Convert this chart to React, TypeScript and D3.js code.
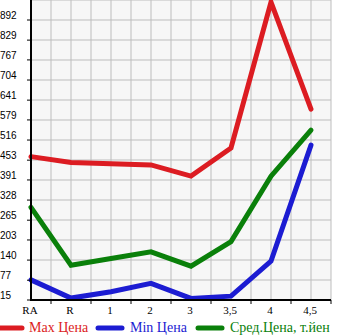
import React from "react";
import * as d3 from "d3";

const categories = ["RA", "R", "1", "2", "3", "3,5", "4", "4,5"];
const maxPrice = [464, 446, 442, 438, 403, 491, 948, 613];
const minPrice = [78, 21, 41, 67, 20, 27, 137, 500];
const avgPrice = [305, 124, 145, 166, 121, 198, 403, 547];
const yTicks = [15, 77, 140, 203, 265, 328, 391, 453, 516, 579, 641, 704, 767, 829, 892];
const legendLabels = ["Max Цена", "Min Цена", "Сред.Цена, т.йен"];

const W = 345;
const H = 335;
const left = 31;
const right = 331;
const top = 0;
const bottom = 300;

const colors = ["#dc1c22", "#1c1cd2", "#0a800a"];

export default function App() {
  const x = d3.scalePoint<string>().domain(categories).range([left, left + 280]);
  const y = d3.scaleLinear().domain([15, 892]).range([bottom, 20]);
  const step = x.step() / 2;
  const vGrid = d3.range(left, right + 0.5, step);
  const hGrid = d3.range(top, bottom + 0.5, 20);
  const line = d3
    .line<number>()
    .x((_, i) => x(categories[i]) as number)
    .y((d) => y(d));
  const series = [maxPrice, minPrice, avgPrice];
  const legendX = [[0, 22, 29], [98, 122, 130], [198, 222, 230]];
  return (
    <svg
      width={W}
      height={H}
      style={{ position: "absolute", left: 0, top: 0 }}
    >
      <rect x={left} y={top} width={right - left} height={bottom - top} fill="#f7f7f7" />
      {vGrid.map((gx) => (
        <line key={"v" + gx} x1={gx} x2={gx} y1={top} y2={bottom} stroke="#bdbdbd" strokeWidth={1} />
      ))}
      {hGrid.map((gy) => (
        <line key={"h" + gy} x1={left} x2={right} y1={gy} y2={gy} stroke="#bdbdbd" strokeWidth={1} />
      ))}
      {series.map((s, i) => (
        <path
          key={"s" + i}
          d={line(s) || ""}
          fill="none"
          stroke={colors[i]}
          strokeWidth={5}
          strokeLinejoin="miter"
          strokeLinecap="round"
        />
      ))}
      <line x1={left} x2={left} y1={top} y2={bottom + 1} stroke="#000" strokeWidth={2} />
      <line x1={left - 1} x2={right} y1={bottom} y2={bottom} stroke="#000" strokeWidth={2} />
      {yTicks.map((t) => (
        <g key={"yt" + t}>
          <line x1={left - 4} x2={left} y1={y(t)} y2={y(t)} stroke="#000" strokeWidth={1} />
          <text
            x={0}
            y={y(t) - 1}
            fontFamily="Liberation Sans, Arial, sans-serif"
            fontSize={10}
            fill="#000"
          >
            {t}
          </text>
        </g>
      ))}
      {categories.map((c) => (
        <g key={"xt" + c}>
          <line
            x1={(x(c) as number) + step}
            x2={(x(c) as number) + step}
            y1={bottom}
            y2={bottom + 4}
            stroke="#000"
            strokeWidth={1}
          />
          <text
            x={(x(c) as number) - 1}
            y={314}
            textAnchor="middle"
            fontFamily="Liberation Serif, Times New Roman, serif"
            fontSize={11}
            fill="#000"
          >
            {c}
          </text>
        </g>
      ))}
      {legendLabels.map((l, i) => (
        <g key={"lg" + i}>
          <line
            x1={legendX[i][0]}
            x2={legendX[i][1]}
            y1={328}
            y2={328}
            stroke={colors[i]}
            strokeWidth={5}
            strokeLinecap="round"
          />
          <text
            x={legendX[i][2]}
            y={332}
            fontFamily="Liberation Serif, Times New Roman, serif"
            fontSize={14}
            fill={colors[i]}
          >
            {l}
          </text>
        </g>
      ))}
    </svg>
  );
}
